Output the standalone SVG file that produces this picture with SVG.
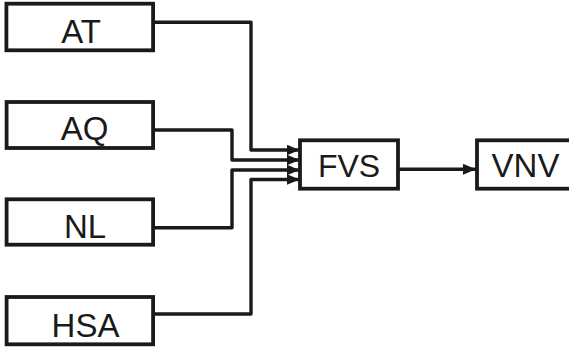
<svg xmlns="http://www.w3.org/2000/svg" width="569" height="351" viewBox="0 0 569 351">
  <style>
    .box { fill: #ffffff; stroke: #1a1a1a; stroke-width: 3.8; }
    .lbl { font-family: "Liberation Sans", Arial, sans-serif; font-size: 33px; fill: #1a1a1a; text-anchor: middle; }
    .wire { fill: none; stroke: #1a1a1a; stroke-width: 3.4; stroke-linejoin: round; }
  </style>
  <defs>
    <marker id="arrow" markerUnits="userSpaceOnUse" markerWidth="14" markerHeight="12" refX="13" refY="5.5" orient="auto">
      <path d="M0,0 L13,5.5 L0,11 Z" fill="#1a1a1a"/>
    </marker>
  </defs>
  <rect width="569" height="351" fill="#ffffff"/>
  <g id="connectors">
    <path class="wire" d="M155,22.3 H251 V150 H299.5" marker-end="url(#arrow)"/>
    <path class="wire" d="M155,130 H232 V160 H299.5" marker-end="url(#arrow)"/>
    <path class="wire" d="M155,227.7 H232 V170 H299.5" marker-end="url(#arrow)"/>
    <path class="wire" d="M155,314 H251 V179.5 H299.5" marker-end="url(#arrow)"/>
    <path class="wire" d="M398,169.3 H476" marker-end="url(#arrow)"/>
  </g>
  <g id="node-AT">
    <rect class="box" x="6.4" y="3.7" width="146.7" height="46.6"/>
    <text class="lbl" x="81" y="42.7">AT</text>
  </g>
  <g id="node-AQ">
    <rect class="box" x="6.6" y="102" width="146.5" height="46"/>
    <text class="lbl" x="84.5" y="140">AQ</text>
  </g>
  <g id="node-NL">
    <rect class="box" x="6.6" y="199.3" width="146.5" height="45.4"/>
    <text class="lbl" x="85" y="237.7">NL</text>
  </g>
  <g id="node-HSA">
    <rect class="box" x="6.6" y="297" width="146.5" height="47.3"/>
    <text class="lbl" x="85.5" y="336.7">HSA</text>
  </g>
  <g id="node-FVS">
    <rect class="box" x="300" y="140.3" width="98" height="48.4"/>
    <text class="lbl" x="349" y="176.7" style="font-size:32px">FVS</text>
  </g>
  <g id="node-VNV">
    <rect class="box" x="477" y="140.3" width="100" height="48.4"/>
    <text class="lbl" x="525.5" y="176.7">VNV</text>
  </g>
</svg>
